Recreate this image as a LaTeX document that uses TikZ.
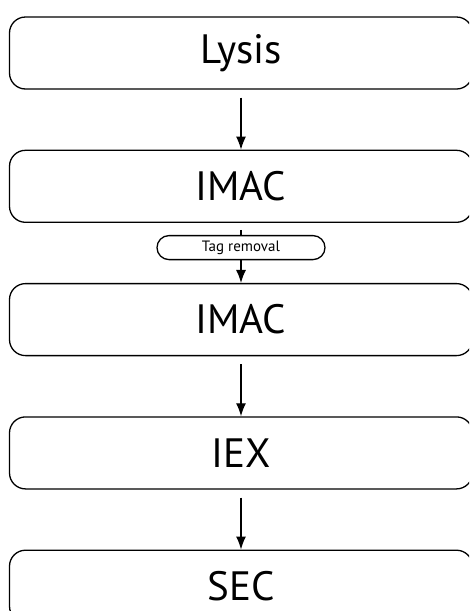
\documentclass[tikz,border=0pt]{standalone}
\usepackage{fontspec}
\setmainfont{PT Sans}
\usetikzlibrary{arrows.meta}
\usetikzlibrary{positioning}
\tikzset{stage/.style = {draw, line width = 1.3pt, rounded corners = 16pt,
                         minimum width = 463pt, minimum height = 72pt,
                         inner sep = 0pt, font = \fontsize{41}{44}\selectfont},
         pill/.style = {draw, line width = 1.3pt, rounded corners = 12pt,
                        minimum width = 168pt, minimum height = 24pt,
                        inner sep = 0pt, font = \fontsize{15}{17}\selectfont},
         flow/.style = {-{Latex[length = 13pt, width = 10pt]}, line width = 1.3pt,
                        shorten <= 8pt}}

\begin{document}
\begin{tikzpicture}[node distance = 60pt]
      \useasboundingbox (0, 0) rectangle (469pt, -611pt);
      \clip (0, 0) rectangle (469pt, -611pt);

      \node [stage] (lysis) at (241pt, -53pt) {Lysis};
      \node [stage, below = of lysis] (imac1) {IMAC};
      \node [pill, below = 12pt of imac1.south] (tagrm) {Tag removal};
      \node [stage, below = of imac1] (imac2) {IMAC};
      \node [stage, below = of imac2] (iex) {IEX};
      \node [stage, below = of iex] (sec) {SEC};

      \draw [flow] (lysis) -- (imac1);
      \draw [line width = 1.3pt, shorten <= 7pt] (imac1) -- (tagrm);
      \draw [flow, shorten <= 0pt] (tagrm) -- (imac2);
      \draw [flow] (imac2) -- (iex);
      \draw [flow] (iex) -- (sec);
    \end{tikzpicture}
\end{document}
